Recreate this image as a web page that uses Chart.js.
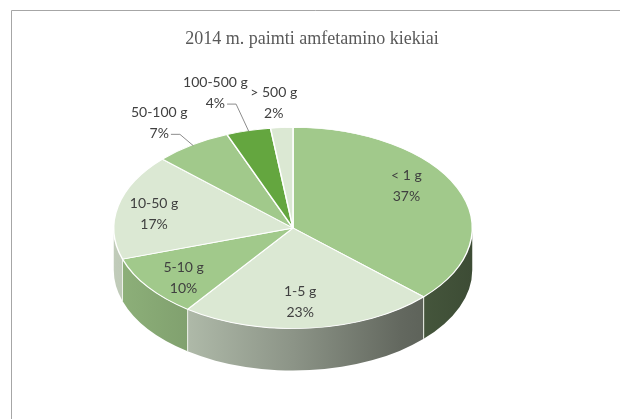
<!DOCTYPE html>
<html>
<head>
<meta charset="utf-8">
<script src="https://cdn.jsdelivr.net/npm/chart.js@4"></script>
<style>
  html, body { margin: 0; padding: 0; background: #fff; }
</style>
</head>
<body>
<canvas id="amfetaminas" width="620" height="419"></canvas>
<script>
const chartTitle = "2014 m. paimti amfetamino kiekiai";
const categories = ["< 1 g", "1-5 g", "5-10 g", "10-50 g", "50-100 g", "100-500 g", "> 500 g"];
const shares = [37, 23, 10, 17, 7, 4, 2];
const sliceColors = ["#a1c98b", "#dbe8d3", "#a1c98b", "#dbe8d3", "#a1c98b", "#64a63f", "#dbe8d3"];

// where each label sits: f = fraction of radius along the slice middle, then a nudge
const labelPlace = [
  { f: 0.72, dx: -5, dy: -13 },
  { f: 0.72, dx: -5, dy: 2 },
  { f: 0.72, dx: -5, dy: 7 },
  { f: 0.72, dx: -13, dy: 2 },
  { f: 1, dx: -33, dy: -22, leader: true },
  { f: 1, dx: -33, dy: -38, leader: true },
  { f: 1, dx: -8, dy: -25 }
];

const TILT = 0.561;   // ellipse squash of the top face
const DEPTH = 42;     // height of the pie side
// light falling from the left on the side wall: [position, brightness]
const sideLight = [[0, 0.88], [0.2, 0.8], [0.5, 0.64], [0.8, 0.45], [1, 0.38]];

function shade(hex, k) {
  const n = parseInt(hex.slice(1), 16);
  const r = Math.round(((n >> 16) & 255) * k);
  const g = Math.round(((n >> 8) & 255) * k);
  const b = Math.round((n & 255) * k);
  return `rgb(${r},${g},${b})`;
}

const pie3d = {
  id: 'pie3d',
  beforeDatasetsDraw(chart) {
    const ctx = chart.ctx;
    const arcs = chart.getDatasetMeta(0).data;
    const cx = arcs[0].x, cy = arcs[0].y, R = arcs[0].outerRadius, r = R * TILT;

    // side walls, only the front half shows
    arcs.forEach((arc, i) => {
      const a = Math.max(arc.startAngle, 0), b = Math.min(arc.endAngle, Math.PI);
      if (b <= a) return;
      const grad = ctx.createLinearGradient(cx - R, 0, cx + R, 0);
      sideLight.forEach(([p, k]) => grad.addColorStop(p, shade(sliceColors[i], k)));
      ctx.beginPath();
      ctx.ellipse(cx, cy, R, r, 0, a, b);
      ctx.lineTo(cx + R * Math.cos(b), cy + r * Math.sin(b) + DEPTH);
      ctx.ellipse(cx, cy + DEPTH, R, r, 0, b, a, true);
      ctx.closePath();
      ctx.fillStyle = grad;
      ctx.fill();
    });

    // seams between slices on the side
    ctx.strokeStyle = '#eef2ea';
    ctx.lineWidth = 1;
    arcs.forEach(arc => {
      const t = arc.startAngle;
      if (t > 0 && t < Math.PI) {
        const x = cx + R * Math.cos(t), y = cy + r * Math.sin(t);
        ctx.beginPath();
        ctx.moveTo(x, y);
        ctx.lineTo(x, y + DEPTH);
        ctx.stroke();
      }
    });

    // squash the top face drawn by Chart.js
    ctx.save();
    ctx.translate(cx, cy);
    ctx.scale(1, TILT);
    ctx.translate(-cx, -cy);
  },
  afterDatasetsDraw(chart) {
    chart.ctx.restore();
  },
  afterDraw(chart) {
    const ctx = chart.ctx;
    const arcs = chart.getDatasetMeta(0).data;
    const cx = arcs[0].x, cy = arcs[0].y, R = arcs[0].outerRadius, r = R * TILT;
    const total = shares.reduce((s, v) => s + v, 0);

    // frame
    ctx.save();
    ctx.strokeStyle = '#a6a6a6';
    ctx.lineWidth = 1;
    ctx.beginPath();
    ctx.moveTo(11.5, 419);
    ctx.lineTo(11.5, 10.5);
    ctx.lineTo(620, 10.5);
    ctx.stroke();

    // title
    ctx.fillStyle = '#595959';
    ctx.font = '18px "Liberation Serif"';
    ctx.textAlign = 'center';
    ctx.textBaseline = 'alphabetic';
    ctx.fillText(chartTitle, 312, 44);

    // data labels
    ctx.font = '14px Lato';
    ctx.textBaseline = 'middle';
    arcs.forEach((arc, i) => {
      const m = (arc.startAngle + arc.endAngle) / 2;
      const p = labelPlace[i];
      const ex = cx + R * p.f * Math.cos(m), ey = cy + r * p.f * Math.sin(m);
      const ax = ex + p.dx, ay = ey + p.dy;
      const pct = Math.round(shares[i] / total * 100) + '%';
      ctx.fillStyle = '#404040';
      ctx.fillText(categories[i], ax, ay - 10.5);
      ctx.fillText(pct, ax, ay + 10.5);
      if (p.leader) {
        const sx = ax + ctx.measureText(pct).width / 2 + 2, sy = ay + 11.5;
        ctx.strokeStyle = '#8c8c8c';
        ctx.beginPath();
        ctx.moveTo(sx, sy);
        ctx.lineTo(sx + 9, sy);
        ctx.lineTo(cx + R * 0.99 * Math.cos(m), cy + r * 0.99 * Math.sin(m));
        ctx.stroke();
      }
    });
    ctx.restore();
  }
};

new Chart(document.getElementById('amfetaminas'), {
  type: 'pie',
  data: {
    labels: categories,
    datasets: [{
      data: shares,
      backgroundColor: sliceColors,
      borderColor: '#ffffff',
      borderWidth: 1.5,
      clip: false
    }]
  },
  options: {
    responsive: false,
    animation: false,
    events: [],
    layout: { padding: { left: 113, right: 147, top: 48, bottom: 11 } },
    plugins: {
      legend: { display: false },
      title: { display: false },
      tooltip: { enabled: false }
    }
  },
  plugins: [pie3d]
});
</script>
</body>
</html>
